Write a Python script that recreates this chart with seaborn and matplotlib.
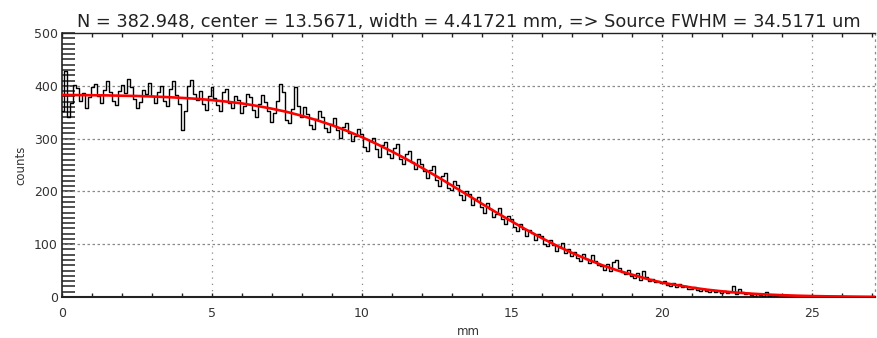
import numpy as np
import pandas as pd
import seaborn as sns
import matplotlib.pyplot as plt
from matplotlib.ticker import MultipleLocator

sns.set_style("white")
plt.rcParams['font.family'] = ['DejaVu Sans']

# histogram counts, 0.1 mm bins starting at 0 mm
bin_width = 0.1
counts = [
    352, 428, 341, 368, 401, 395, 372, 386, 358, 379,
    397, 404, 381, 367, 392, 410, 388, 371, 364, 390,
    402, 386, 413, 397, 375, 358, 369, 392, 385, 406,
    381, 367, 389, 400, 372, 361, 394, 409, 383, 366,
    316, 352, 399, 411, 384, 373, 390, 366, 355, 381,
    398, 377, 363, 352, 389, 393, 368, 357, 381, 374,
    349, 362, 384, 378, 355, 341, 366, 383, 370, 352,
    331, 349, 372, 404, 388, 336, 329, 356, 398, 362,
    340, 359, 347, 325, 318, 337, 352, 341, 321, 312,
    328, 339, 316, 301, 322, 330, 310, 296, 304, 318,
    309, 285, 277, 296, 302, 281, 266, 287, 293, 270,
    264, 283, 289, 262, 251, 270, 276, 255, 243, 261,
    252, 238, 226, 241, 249, 222, 211, 230, 235, 207,
    203, 219, 212, 193, 184, 201, 196, 175, 186, 190,
    170, 159, 178, 166, 151, 157, 169, 148, 139, 154,
    147, 133, 125, 138, 129, 116, 127, 121, 108, 119,
    115, 101, 96, 108, 99, 88, 94, 102, 83, 90,
    78, 86, 74, 69, 81, 72, 64, 79, 68, 61,
    58, 52, 63, 49, 66, 70, 55, 47, 44, 51,
    40, 36, 45, 33, 50, 38, 31, 35, 28, 30,
    26, 30, 23, 21, 27, 19, 24, 18, 21, 16,
    15, 18, 13, 11, 16, 12, 9, 14, 10, 12,
    8, 11, 7, 9, 21, 6, 16, 9, 5, 8,
    4, 2, 6, 3, 1, 9, 2, 0, 1, 0,
]

# fitted curve
fit_mm = [0, 0.5, 1, 1.5, 2, 2.5, 3, 3.5, 4, 4.5, 5, 5.5, 6, 6.5, 7, 7.5,
          8, 8.5, 9, 9.5, 10, 10.5, 11, 11.5, 12, 12.5, 13, 13.5, 14, 14.5,
          15, 15.5, 16, 16.5, 17, 17.5, 18, 18.5, 19, 19.5, 20, 20.5, 21,
          21.5, 22, 22.5, 23, 23.5, 24, 24.5, 25, 25.5, 26, 26.5, 27.1]
fit_counts = [382.6, 382.4, 382.1, 381.8, 381.2, 380.7, 379.7, 378.6, 377.1,
              375.3, 372.9, 369.9, 366.6, 361.9, 356.6, 350.5, 343.1, 334.8,
              325.4, 314.6, 302.7, 289.6, 275.5, 260.5, 244.6, 228.1, 211.1,
              193.8, 176.5, 159.4, 142.8, 126.7, 111.4, 97.0, 83.6, 71.5,
              60.4, 50.6, 42.4, 34.3, 27.1, 22.6, 17.8, 13.9, 10.8, 8.3, 6.3,
              4.7, 3.5, 2.5, 1.8, 1.3, 1.0, 0.65, 0.3]

title = ("N = 382.948, center = 13.5671, width = 4.41721 mm, "
         "=> Source FWHM = 34.5171 um")

hist_df = pd.DataFrame({"mm": np.arange(len(counts)) * bin_width, "counts": counts})
fit_df = pd.DataFrame({"mm": fit_mm, "counts": fit_counts})

fig = plt.figure(figsize=(8.77, 3.38), dpi=100)
ax = fig.add_axes([0.0707, 0.1213, 0.9270, 0.7811])

sns.lineplot(data=hist_df, x="mm", y="counts", ax=ax, color="black",
             linewidth=1.0, drawstyle="steps-mid", estimator=None, zorder=3)
sns.lineplot(data=fit_df, x="mm", y="counts", ax=ax, color="#ff0000",
             linewidth=1.9, estimator=None, zorder=4)

ax.set_xlim(0, 27.1)
ax.set_ylim(0, 500)

ax.xaxis.set_major_locator(MultipleLocator(5))
ax.xaxis.set_minor_locator(MultipleLocator(1))
ax.yaxis.set_major_locator(MultipleLocator(100))
ax.yaxis.set_minor_locator(MultipleLocator(10))

ax.tick_params(axis="x", which="both", direction="in", top=True, bottom=True,
               length=3, width=1, color="#222222", labelsize=9,
               labelcolor="#333333", pad=7)
ax.tick_params(axis="y", which="both", direction="in", left=True, right=False,
               length=9, width=1.1, color="#222222", labelsize=9,
               labelcolor="#333333", pad=3)

# grid: dotted verticals, dashed horizontals
for xv in [5, 10, 15, 20, 25]:
    ax.axvline(xv, color="#8a8a8a", linewidth=0.9, linestyle=(0, (1, 4)), zorder=1)
for yv in [100, 200, 300, 400]:
    ax.axhline(yv, color="#8a8a8a", linewidth=0.9, linestyle=(0, (2, 2)), zorder=1)

for side in ["left", "bottom", "top"]:
    ax.spines[side].set_color("#222222")
ax.spines["left"].set_linewidth(1.2)
ax.spines["bottom"].set_linewidth(1.5)
ax.spines["top"].set_linewidth(1.0)
ax.spines["right"].set_color("#8a8a8a")
ax.spines["right"].set_linestyle((0, (1, 4)))
ax.spines["right"].set_linewidth(0.9)

ax.set_xlabel("mm", fontsize=8.5, color="#333333", labelpad=4)
ax.set_ylabel("counts", fontsize=8.5, color="#333333", labelpad=5)
ax.set_title(title, fontsize=12.8, color="#222222", pad=4)

fig.savefig("out.png", dpi=100)
